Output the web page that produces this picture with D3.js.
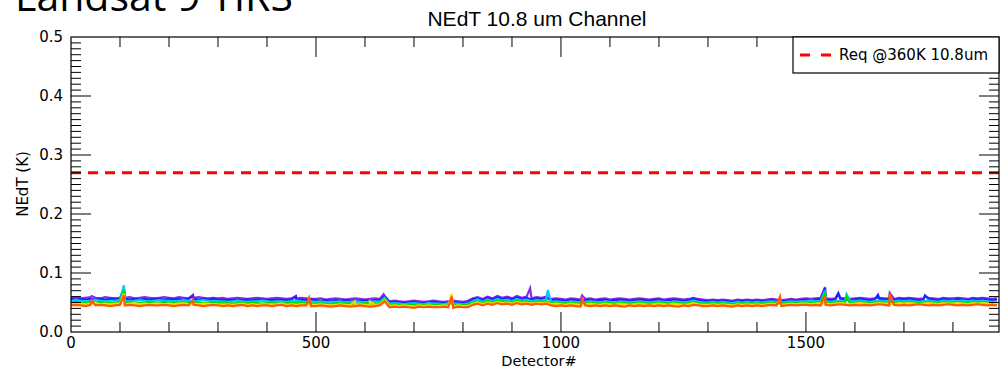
<!DOCTYPE html>
<meta charset="UTF-8">
<style>
  body { margin: 0; background: #fff; }
  text { font-family: "DejaVu Sans", sans-serif; }
</style>
<svg width="1000" height="369"></svg>
<script src="https://d3js.org/d3.v7.min.js"></script>
<script>

// NEdT per detector, in mK, sampled every 10 detectors (0..1890)
var detectorStep = 10;

var purple = [
  58,59,57,58,59,58,57,59,58,57, 58,58,59,57,58,59,58,57,58,59, 58,57,59,58,57,58,59,58,57,58,
  57,58,56,57,58,57,56,57,58,57, 56,57,58,57,56,57,57,58,57,56,
  56,57,55,56,57,56,55,56,57,56, 55,56,57,56, 61,
  52,53,52,51,52,53,52,51,52,53, 52,51,52,53,52,51,53,
  57,59,56,60,57,61,58,60,57,61, 58,60,57,59,58,60,
  56,57, 56,55,57,56,55,56,57,55,56,57, 55,56,57,56,55,56,57,56,55,56, 57,55,56,57,56,55,56,58,56,55,
  54,55,54,55,54,53,55,54,55,54, 55,54,55,56,55,54,55,56,55,56,
  57,56,57,58,57,56,57,58,57,56, 57,58,57,56,57,58,57,57,56,58, 57,58,57,56,57,58,57,56,58,57, 57,58,57,56,58,57,58,57,56,57
];
var blue = [
  56,55,56,55,56,55,56,55,56,56, 55,56,55,56,55,56,55,56,56,55, 56,55,56,55,56,56,55,56,55,56,
  55,54,55,54,55,54,55,54,55,55, 54,55,54,55,54,55,54,55,54,55,
  54,53,54,53,54,53,54,53,54,53, 54,53,54,54, 60,
  50,51,50,49,50,51,50,49,50,51, 50,49,50,51,50,49,50,
  55,57,54,58,55,59,56,58,55,59, 56,58,55,57,56,58,
  54,55, 54,53,55,54,53,54,55,53,54,55, 53,54,55,54,53,54,55,54,53,54, 55,53,54,55,54,53,54,56,54,53,
  52,53,52,53,52,51,53,52,53,52, 53,52,53,54,53,52,53,54,53,54,
  55,54,55,56,55,54,55,56,55,54, 55,56,55,54,55,56,55,55,54,56, 55,56,55,54,55,56,55,54,56,55, 55,56,55,54,56,55,56,55,54,55
];
var cyan = [
  53,54,53,52,53,54,53,52,53,53, 54,53,52,53,54,53,52,53,54,53, 53,52,53,54,53,52,53,54,53,52,
  52,52,51,52,53,52,51,52,52,53, 52,51,52,52,51,52,53,52,51,52,
  51,52,50,51,51,52,50,51,52,51, 50,51,52,51, 58,
  48,49,48,47,48,49,48,47,49,48, 48,47,49,48,48,47,48,
  52,55,51,55,52,56,53,55,52,56, 53,55,52,54,53,55,
  51,52, 51,50,52,51,50,51,52,51,50,52, 51,50,52,51,50,51,52,51,50,51, 52,51,50,52,51,50,51,53,51,50,
  50,51,50,51,50,49,51,50,51,50, 51,50,51,52,51,50,51,52,51,52,
  52,53,52,53,52,51,52,53,52,53, 52,53,52,51,52,53,52,53,52,53, 52,53,52,51,52,53,52,51,53,52, 53,52,53,52,53,52,53,52,51,52
];
var green = [
  50,51,50,49,51,50,51,50,49,50, 51,50,51,50,49,50,51,50,50,51, 50,49,50,51,50,51,50,49,50,51,
  49,50,49,48,49,50,49,50,49,48, 49,50,49,48,49,50,49,50,49,48,
  48,49,48,47,49,48,49,48,47,48, 49,48,48,49, 56,
  46,47,46,45,47,46,47,46,45,46, 47,46,45,46,47,46,46,
  50,52,49,53,50,53,51,52,50,53, 51,52,50,52,51,52,
  49,50, 49,48,50,49,48,49,50,49,48,50, 49,48,50,49,48,49,50,49,48,49, 50,49,48,50,49,48,49,51,49,48,
  48,49,48,49,48,47,49,48,49,48, 49,48,49,50,49,48,49,50,49,50,
  50,49,50,51,50,49,50,51,50,49, 50,51,50,49,50,51,50,50,49,51, 50,51,50,49,50,51,50,49,51,50, 50,51,50,49,51,50,51,50,49,50
];
var yellow = [
  48,47,48,47,48,49,47,48,47,48, 48,47,48,49,47,48,47,48,48,47, 48,47,48,49,47,48,47,48,48,47,
  47,46,47,46,47,48,46,47,46,47, 47,46,47,48,46,47,46,47,47,46,
  46,47,46,45,46,47,46,45,46,47, 46,45,46,47, 54,
  44,45,44,45,44,43,45,44,45,44, 44,45,44,43,45,44,44,
  48,50,47,50,48,51,49,50,48,51, 49,50,48,50,49,50,
  47,48, 47,46,48,47,46,47,48,47,46,48, 47,46,48,47,46,47,48,47,46,47, 48,47,46,48,47,46,47,49,47,46,
  46,47,46,47,46,45,47,46,47,46, 47,46,47,48,47,46,47,48,47,48,
  48,47,48,49,48,47,48,49,48,47, 48,49,48,47,48,49,48,48,47,49, 48,49,48,47,48,49,48,47,49,48, 48,49,48,47,49,48,49,48,47,48
];
var orange = [
  45,46,45,44,46,45,46,45,44,45, 46,45,46,45,44,45,46,45,45,46, 45,44,45,46,45,46,45,44,45,46,
  45,44,45,44,45,46,44,45,44,45, 45,44,45,46,44,45,44,45,45,44,
  44,45,44,43,44,45,44,43,44,45, 44,43,44,45, 52,
  42,43,42,43,42,41,43,42,43,42, 42,43,42,41,43,42,42,
  46,48,45,48,46,49,47,48,46,49, 47,48,46,48,47,48,
  45,44, 45,44,45,44,43,45,44,45,44,45, 44,45,44,43,45,44,45,44,45,44, 45,44,45,44,43,45,44,46,45,44,
  44,45,44,45,44,43,45,44,45,44, 45,44,45,46,45,44,45,46,45,46,
  46,45,46,45,46,45,46,47,46,45, 46,45,46,45,46,47,46,45,46,45, 46,45,46,47,46,45,46,45,46,47, 46,45,46,45,46,47,46,45,46,45
];

// single-detector spikes [detector, mK]
var purpleSpikes = [[42,61],[108,72],[249,63],[459,61],[638,64],[937,74],[1043,62],[1539,76],[1566,66],[1671,66],[1743,61]];
var blueSpikes   = [[108,75],[249,61],[459,60],[1539,74],[1566,65],[1647,63],[1743,62]];
var cyanSpikes   = [[108,79],[973,71],[1539,70],[1583,64]];
var greenSpikes  = [[108,70],[777,58],[1539,66],[1583,60]];
var yellowSpikes = [[108,65],[579,52],[610,52],[777,64],[1447,58]];
var orangeSpikes = [[42,53],[108,62],[249,55],[486,58],[777,60],[1043,56],[1447,60],[1539,62],[1671,64]];

var seriesNames  = ["purple", "blue", "cyan", "green", "yellow", "orange"];
var seriesColors = ["#8a2be2", "#2222ff", "#00ccff", "#00dd00", "#eedd00", "#ff5a00"];

var xTicks = [0, 500, 1000, 1500];
var yTicks = [0.0, 0.1, 0.2, 0.3, 0.4, 0.5];
var reqValue = 0.27;
var reqLabel = "Req @360K 10.8um";

var svg = d3.select("svg"),
    margin = {top: 37, right: 1, bottom: 37, left: 71},
    width = +svg.attr("width") - margin.left - margin.right,
    height = +svg.attr("height") - margin.top - margin.bottom,
    g = svg.append("g").attr("transform", "translate(" + margin.left + "," + margin.top + ")");

var x = d3.scaleLinear().domain([0, 1894]).range([0, width]);
var y = d3.scaleLinear().domain([0, 0.5]).range([height, 0]);

var line = d3.line()
    .x(function(d) { return x(d[0]); })
    .y(function(d) { return y(d[1] / 1000); });

var allValues = [purple, blue, cyan, green, yellow, orange];
var allSpikes = [purpleSpikes, blueSpikes, cyanSpikes, greenSpikes, yellowSpikes, orangeSpikes];

allValues.forEach(function(vals, k) {
    var pts = vals.map(function(v, i) { return [i * detectorStep, v]; })
        .concat(allSpikes[k])
        .sort(function(a, b) { return a[0] - b[0]; });
    g.append("path")
        .datum(pts)
        .attr("fill", "none")
        .attr("stroke", seriesColors[k])
        .attr("stroke-width", 2.2)
        .attr("d", line);
});

// requirement line
g.append("line")
    .attr("x1", 0).attr("x2", width)
    .attr("y1", y(reqValue)).attr("y2", y(reqValue))
    .attr("stroke", "#ff0000")
    .attr("stroke-width", 3)
    .attr("stroke-dasharray", "10,7");

// frame
g.append("rect")
    .attr("width", width).attr("height", height)
    .attr("fill", "none").attr("stroke", "#000").attr("stroke-width", 1.2);

// inward ticks on all sides
var xMinor = d3.range(100, 1894, 100);
var yMinor = d3.range(0.01, 0.5, 0.01);
function tickLen(major) { return major ? 20 : 10; }

xMinor.forEach(function(t) {
    var major = t % 500 === 0;
    g.append("line").attr("x1", x(t)).attr("x2", x(t)).attr("y1", height).attr("y2", height - tickLen(major)).attr("stroke", "#000");
    g.append("line").attr("x1", x(t)).attr("x2", x(t)).attr("y1", 0).attr("y2", tickLen(major)).attr("stroke", "#000");
});
yMinor.forEach(function(t) {
    var major = Math.abs(t * 10 - Math.round(t * 10)) < 1e-6;
    g.append("line").attr("x1", 0).attr("x2", tickLen(major)).attr("y1", y(t)).attr("y2", y(t)).attr("stroke", "#000");
    g.append("line").attr("x1", width).attr("x2", width - tickLen(major)).attr("y1", y(t)).attr("y2", y(t)).attr("stroke", "#000");
});

// tick labels
g.selectAll(".xl").data(xTicks).enter().append("text")
    .attr("x", function(d) { return x(d); })
    .attr("y", height + 16)
    .attr("text-anchor", "middle")
    .attr("font-size", 15)
    .text(function(d) { return d; });

g.selectAll(".yl").data(yTicks).enter().append("text")
    .attr("x", -8)
    .attr("y", function(d) { return y(d) + 5; })
    .attr("text-anchor", "end")
    .attr("font-size", 15)
    .text(d3.format(".1f"));

// axis titles
svg.append("text")
    .attr("x", 539).attr("y", 366)
    .attr("text-anchor", "middle").attr("font-size", 14.5)
    .text("Detector#");

svg.append("text")
    .attr("transform", "translate(28,184) rotate(-90)")
    .attr("text-anchor", "middle").attr("font-size", 15)
    .text("NEdT (K)");

svg.append("text")
    .attr("x", 537).attr("y", 26)
    .attr("text-anchor", "middle")
    .style("font-family", "'Liberation Sans', Arial, sans-serif")
    .attr("font-size", 21)
    .text("NEdT 10.8 um Channel");

svg.append("text")
    .attr("x", 15).attr("y", 11)
    .style("font-family", "'Open Sans', sans-serif")
    .attr("font-size", 41)
    .text("Landsat 9 TIRS");

// legend
var lg = g.append("g").attr("transform", "translate(" + (793 - margin.left) + ",0)");
lg.append("rect")
    .attr("width", width - (793 - margin.left)).attr("height", 36)
    .attr("fill", "#fff").attr("stroke", "#000").attr("stroke-width", 1.2);
lg.append("line")
    .attr("x1", 7).attr("x2", 40).attr("y1", 18).attr("y2", 18)
    .attr("stroke", "#ff0000").attr("stroke-width", 3)
    .attr("stroke-dasharray", "10,11");
lg.append("text")
    .attr("x", 46).attr("y", 23)
    .attr("font-size", 15)
    .text(reqLabel);

</script>
